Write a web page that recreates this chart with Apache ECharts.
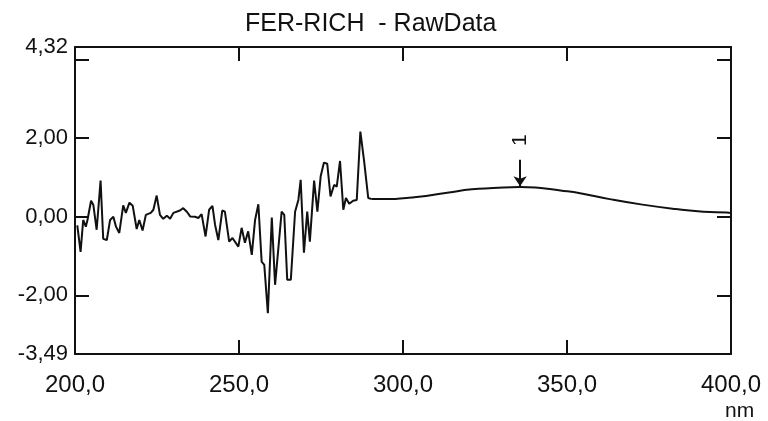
<!DOCTYPE html>
<html>
<head>
<meta charset="utf-8">
<script src="https://cdn.jsdelivr.net/npm/echarts@6/dist/echarts.min.js"></script>
<style>
html,body{margin:0;padding:0;background:#fff;}
#chart{width:768px;height:421px;}
</style>
</head>
<body>
<div id="chart"></div>
<script>
// Noisy region (nm, absorbance)
var wlNoisy = [200.7,201.7,202.5,203.3,203.8,204.9,205.6,206.6,207.8,208.6,209.7,210.7,211.7,212.5,213.5,214.7,215.5,216.6,217.6,218.8,219.6,220.6,221.6,223.1,223.9,224.9,225.9,226.9,228.0,229.0,230.0,232.0,233.0,234.1,235.1,236.6,237.6,238.6,239.8,240.9,241.9,242.7,243.7,244.9,245.7,247.0,248.0,249.8,250.8,251.8,252.8,253.9,254.9,255.9,256.9,257.7,258.8,260.0,261.0,263.0,263.8,264.7,265.8,267.1,268.1,268.8,269.8,270.8,271.6,272.9,273.9,274.9,275.9,276.9,277.9,279.0,279.8,280.8,281.8,282.6,283.6,284.8,285.9,287.0,288.1,289.4,290.5];
var absNoisy = [-0.22,-0.89,-0.08,-0.25,-0.08,0.41,0.30,-0.33,0.92,-0.56,-0.59,-0.08,0.00,-0.25,-0.41,0.29,0.10,0.36,0.28,-0.31,-0.08,-0.35,0.05,0.10,0.18,0.54,0.05,-0.05,0.03,-0.05,0.10,0.16,0.22,0.13,0.01,0.00,-0.03,0.07,-0.50,0.18,0.28,-0.20,-0.59,0.16,0.13,-0.63,-0.54,-0.76,-0.28,-0.66,-0.37,-0.97,-0.08,0.32,-1.14,-1.22,-2.45,-0.02,-1.73,0.13,0.05,-1.60,-1.60,0.13,0.43,0.94,-0.91,0.13,-0.63,0.92,0.13,1.03,1.38,1.35,0.52,0.81,0.77,1.42,0.18,0.48,0.33,0.41,0.43,2.17,1.45,0.48,0.45];
// Smooth region
var wlSmooth = [290.5,296,301,307,314,321,327.5,335.7,342,348,354,363,373,383,391.6,398.7,400];
var absSmooth = [0.45,0.45,0.48,0.53,0.62,0.70,0.73,0.76,0.73,0.67,0.60,0.45,0.31,0.20,0.13,0.11,0.10];
// Peak marker
var peakWl = 335.7, peakAbs = 0.76, peakLabel = '1';
var arrowTop = 1.45, arrowEnd = 0.78, peakLabelY = 1.95;
// Axis ticks / labels
var yLabelValues = [-3.49,-2,0,2,4.32];
var yTickValues = [-2,0,2,4];
var yMin = -3.49, yMax = 4.32;
var xMin = 200, xMax = 400, xStep = 50;
var titleText = 'FER-RICH  - RawData';
var xUnit = 'nm';

function zip(a,b){return a.map(function(v,i){return [v,b[i]];});}
var ink = '#111';
var fontFam = '"Liberation Sans", Arial, sans-serif';

var chart = echarts.init(document.getElementById('chart'), null, {renderer:'canvas'});
var commonX = {
  type:'value', min:xMin, max:xMax, interval:xStep,
  axisLine:{show:true, onZero:false, lineStyle:{color:ink, width:2}},
  axisTick:{show:true, inside:true, length:14, lineStyle:{color:ink, width:2}},
  splitLine:{show:false}
};
var commonY = {
  type:'value', min:yMin, max:yMax,
  axisLine:{show:true, onZero:false, lineStyle:{color:ink, width:2}},
  axisTick:{show:true, inside:true, length:14, customValues:yTickValues, lineStyle:{color:ink, width:2}},
  splitLine:{show:false}
};
chart.setOption({
  animation:false,
  backgroundColor:'#fff',
  title:[
    {text:titleText, left:240, top:7, textStyle:{fontFamily:fontFam, fontSize:25, fontWeight:'normal', color:ink}},
    {text:xUnit, left:720, top:396, textStyle:{fontFamily:fontFam, fontSize:21, fontWeight:'normal', color:ink}}
  ],
  grid:{left:75, right:37, top:47, bottom:67, containLabel:false},
  xAxis:[
    Object.assign({}, commonX, {position:'bottom',
      axisLabel:{show:true, margin:19, color:ink, fontFamily:fontFam, fontSize:24,
        formatter:function(v){return v.toFixed(1).replace('.',',');}}}),
    Object.assign({}, commonX, {position:'top', axisLabel:{show:false}})
  ],
  yAxis:[
    Object.assign({}, commonY, {position:'left',
      axisLabel:{show:true, margin:7, color:ink, fontFamily:fontFam, fontSize:22, customValues:yLabelValues,
        formatter:function(v){return v.toFixed(2).replace('.',',');}}}),
    Object.assign({}, commonY, {position:'right', axisLabel:{show:false}})
  ],
  series:[
    {type:'line', xAxisIndex:0, yAxisIndex:0, data:zip(wlNoisy,absNoisy), showSymbol:false, symbol:'none',
      lineStyle:{color:ink, width:2}, itemStyle:{color:ink}},
    {type:'line', xAxisIndex:0, yAxisIndex:0, data:zip(wlSmooth,absSmooth), showSymbol:false, symbol:'none', smooth:true,
      lineStyle:{color:ink, width:2}, itemStyle:{color:ink},
      markLine:{silent:true, symbol:['none','arrow'], symbolSize:10, label:{show:false},
        lineStyle:{color:ink, width:2, type:'solid'},
        data:[[{coord:[peakWl, arrowTop]},{coord:[peakWl, arrowEnd]}]]},
      markPoint:{silent:true, symbol:'circle', symbolSize:0,
        label:{show:true, position:'inside', formatter:peakLabel, rotate:90, color:ink, fontFamily:fontFam, fontSize:21},
        data:[{coord:[peakWl, peakLabelY]}]}
    }
  ]
});
</script>
</body>
</html>
